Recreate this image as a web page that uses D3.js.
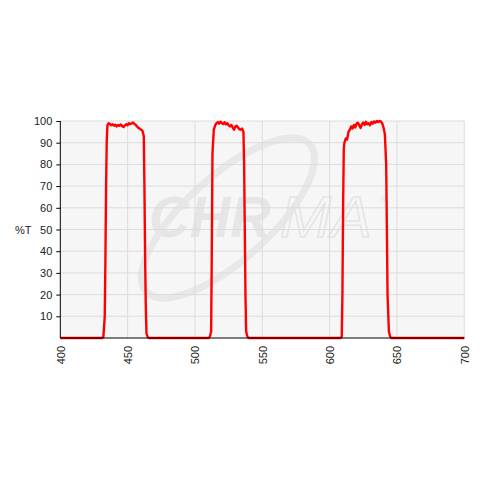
<!DOCTYPE html>
<html><head><meta charset="utf-8">
<script src="https://cdn.jsdelivr.net/npm/d3@7"></script>
<style>body{margin:0;background:#fff}svg{display:block}</style>
</head><body>
<svg id="c" width="480" height="480"></svg>
<script>
const wavelengths = [400,431,432,433,433.5,434,434.5,435,436,437,438,439,440,441,442,443,444,445,446,447,448,449,450,451,452,453,454,455,456,457,458,459,460,461,462,462.5,463,463.5,464,465,466,
510,511,512,512.5,513,514,515,516,517,518,519,520,521,522,523,524,525,526,527,528,529,530,531,532,533,534,535,536,536.5,537,537.5,538,539,540,
608,609,609.5,610,610.5,611,612,613,614,615,616,617,618,619,620,621,622,623,624,625,626,627,628,629,630,631,632,633,634,635,636,637,638,639,640,641,642,642.5,643,644,645,646,700];
const transmission = [0,0,0.5,10,36,70,91,98,99,98.5,98,98.5,97.8,98.3,97.5,98.2,97.8,98.4,97.6,97.2,98,98.5,98,99,98.6,98.9,99.3,98.7,98.2,97.5,96.8,96.5,96,95.5,93,68,36,14,2,0.3,0,
0,0.5,3,40,85,96,98,99,99.5,98.8,99.7,99,98.6,99.4,98.5,99,98,97.5,98.2,97,96,97.5,97.8,97,96.2,96,96.5,95,80,50,20,3,0.5,0,
0,0.5,20,60,87,90,92,91.5,95,96,97.5,96.5,98.2,97,98.8,99.2,98,96.8,98.5,99.3,98.2,99.6,98.5,99,98,99.5,98.8,99.8,99.2,100,99.5,100,99.8,99,97,94,80,50,20,3,0.5,0,0];
const xTicks = [400,450,500,550,600,650,700];
const yTicks = [10,20,30,40,50,60,70,80,90,100];
const yGrid = [10,20,30,40,50,60,70,80,90,100];

const svg = d3.select('#c');
const m = {l:60.3, r:464.3, t:121, b:338};
const x = d3.scaleLinear().domain([400,700]).range([m.l,m.r]);
const y = d3.scaleLinear().domain([0,100]).range([m.b,m.t]);
const font = 'Liberation Sans, Arial, sans-serif';

svg.append('rect').attr('x',m.l).attr('y',m.t).attr('width',m.r-m.l).attr('height',m.b-m.t).attr('fill','#f6f6f6');

// watermark
const wm = svg.append('g');
wm.append('ellipse').attr('cx',228).attr('cy',218).attr('rx',110).attr('ry',42)
  .attr('transform','rotate(-42,228,218)').attr('fill','none').attr('stroke','#e8e8e8').attr('stroke-width',7);
wm.append('text').attr('x',149).attr('y',237).attr('font-family',font).attr('fill','#e6e6e6')
  .attr('font-size',58).attr('font-weight','bold').attr('font-style','italic').attr('textLength',122).attr('lengthAdjust','spacingAndGlyphs').text('CHR');
wm.append('text').attr('x',280).attr('y',237).attr('font-family',font).attr('fill','none')
  .attr('font-size',58).attr('font-style','italic').attr('stroke','#e4e4e4').attr('stroke-width',1.5)
  .attr('textLength',92).attr('lengthAdjust','spacingAndGlyphs').text('MA');
wm.append('text').attr('x',380).attr('y',203).attr('font-family',font).attr('font-size',9).attr('fill','#e4e4e4').text('®');

// grid
svg.append('g').selectAll('line').data(yGrid).join('line')
  .attr('x1',m.l).attr('x2',m.r).attr('y1',d=>y(d)).attr('y2',d=>y(d)).attr('stroke','#dcdcdc').attr('stroke-width',1);
svg.append('g').selectAll('line').data(xTicks.slice(1)).join('line')
  .attr('x1',d=>x(d)).attr('x2',d=>x(d)).attr('y1',m.t).attr('y2',m.b).attr('stroke','#dcdcdc').attr('stroke-width',1);

// line
const pts = wavelengths.map((w,i)=>[w,transmission[i]]);
svg.append('path').datum(pts).attr('fill','none').attr('stroke','#ff0000').attr('stroke-width',2.4)
  .attr('stroke-linejoin','round').attr('d',d3.line().x(d=>x(d[0])).y(d=>y(d[1])));

// axes
const yAxis = svg.append('g').attr('transform',`translate(${m.l},0)`)
  .call(d3.axisLeft(y).tickValues(yTicks).tickSize(4).tickPadding(4));
yAxis.select('.domain').attr('stroke','#000').attr('d',`M0,${m.t}V${m.b}`);
yAxis.selectAll('text').attr('font-family',font).attr('font-size',11).attr('fill','#222');

const xAxis = svg.append('g').attr('transform',`translate(0,${m.b})`)
  .call(d3.axisBottom(x).tickValues(xTicks).tickSize(0).tickPadding(0));
xAxis.select('.domain').attr('stroke','#000').attr('d',`M${m.l},0H${m.r}`);
xAxis.selectAll('text').attr('font-family',font).attr('font-size',11).attr('fill','#222')
  .attr('transform','rotate(-90)').attr('text-anchor','end').attr('dy','0.35em').attr('x',-8).attr('y',0);

svg.append('text').attr('x',15).attr('y',234).attr('font-family',font)
  .attr('font-size',11).attr('fill','#222').text('%T');
</script>
</body></html>
